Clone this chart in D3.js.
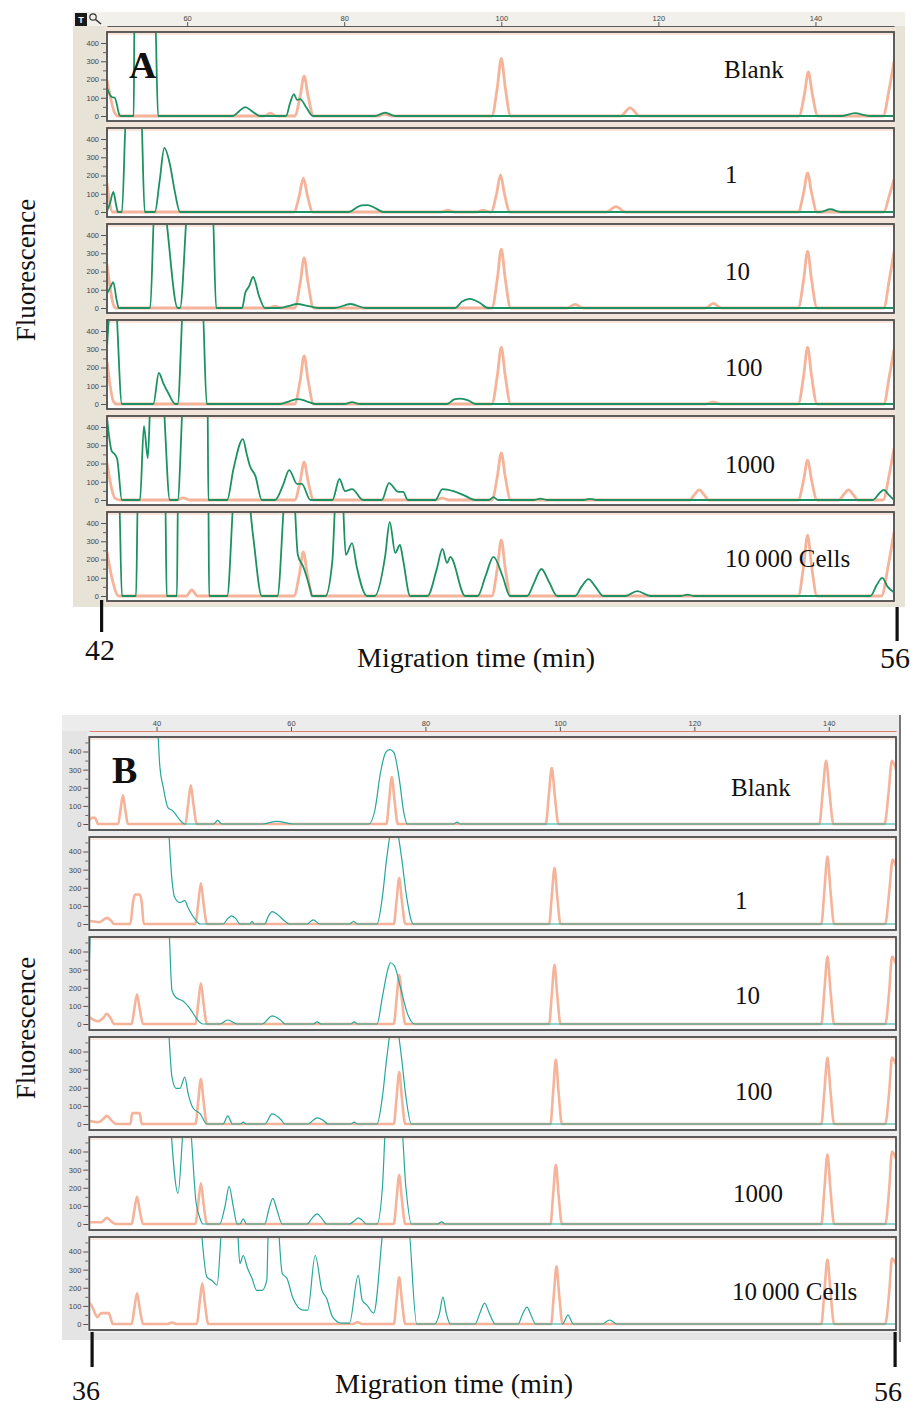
<!DOCTYPE html>
<html>
<head>
<meta charset="utf-8">
<script src="https://cdn.jsdelivr.net/npm/d3@7"></script>
<style>
  body { margin: 0; background: #ffffff; }
  svg { display: block; }
</style>
</head>
<body>
<script>
// ---------- data ----------
const laneLabels = ["Blank", "1", "10", "100", "1000", "10\u2009000 Cells"];
const yTicks = [0, 100, 200, 300, 400];
const yMinorTicks = [50, 150, 250, 350, 450];
const topTicksA = [60, 80, 100, 120, 140];
const topTicksB = [40, 60, 80, 100, 120, 140];
const domainA = [49.8, 150];
const domainB = [30, 150];
const timeLabelsA = ["42", "56"];
const timeLabelsB = ["36", "56"];

// Panel A traces: [scale position, fluorescence]
const orangeA = [
  [[49.8,197],[50.3,90],[50.8,15],[51.2,0],[69.8,0],[70.6,16],[71.4,0],[73.7,0],[74.4,110],[74.9,219],[75.4,110],[76.1,0],[84.4,0],[85.2,10],[86.0,0],[98.8,0],[99.5,158],[100,315],[100.5,158],[101.2,0],[115.2,0],[116.4,44],[117.6,0],[137.9,0],[138.6,120],[139.1,241],[139.6,120],[140.3,0],[148.6,0],[149.4,150],[150,300]],
  [[49.8,159],[50.1,60],[50.5,0],[73.6,0],[74.3,93],[74.8,186],[75.3,93],[76.0,0],[92.4,0],[93.2,10],[94.0,0],[96.9,0],[97.7,10],[98.5,0],[98.7,0],[99.4,100],[99.9,203],[100.4,100],[101.1,0],[113.4,0],[114.6,30],[115.8,0],[137.8,0],[138.5,107],[139.0,214],[139.5,107],[140.2,0],[148.7,0],[149.4,90],[150,180]],
  [[49.8,241],[50.2,110],[50.6,20],[50.9,0],[70.4,0],[71.2,10],[72.0,0],[73.7,0],[74.4,137],[74.9,274],[75.4,137],[76.1,0],[98.8,0],[99.5,161],[100,323],[100.5,161],[101.2,0],[108.4,0],[109.4,20],[110.4,0],[126.0,0],[127.0,25],[128.0,0],[137.8,0],[138.5,156],[139.0,312],[139.5,156],[140.2,0],[148.7,0],[149.4,155],[150,310]],
  [[49.8,235],[50.2,100],[50.6,15],[51.0,0],[73.7,0],[74.4,131],[74.9,263],[75.4,131],[76.1,0],[98.8,0],[99.5,156],[100,312],[100.5,156],[101.2,0],[126.0,0],[127.0,10],[128.0,0],[137.8,0],[138.5,156],[139.0,312],[139.5,156],[140.2,0],[148.7,0],[149.4,150],[150,300]],
  [[49.8,203],[50.3,80],[50.8,10],[51.5,0],[58.6,0],[59.5,12],[60.4,0],[73.7,0],[74.4,104],[74.9,208],[75.4,104],[76.1,0],[91.7,0],[92.5,10],[93.3,0],[98.8,0],[99.5,129],[100,258],[100.5,129],[101.2,0],[124.0,0],[124.6,30],[125.2,55],[125.8,30],[126.4,0],[137.8,0],[138.5,110],[139.0,219],[139.5,110],[140.2,0],[143.0,0],[143.6,30],[144.2,55],[144.8,30],[145.4,0],[148.6,0],[149.4,140],[150,285]],
  [[49.8,241],[50.4,104],[51.3,0],[59.9,0],[60.6,33],[61.3,0],[73.6,0],[74.3,120],[74.8,241],[75.3,120],[76.0,0],[98.8,0],[99.5,153],[100,307],[100.5,153],[101.2,0],[137.8,0],[138.5,167],[139.0,334],[139.5,167],[140.2,0],[148.4,0],[149.3,175],[150,350]]
];

const greenA = [
  [[49.8,153],[50.4,104],[50.8,99],[51.4,5],[51.6,0],[53.2,0],[53.3,600],[55.9,600],[56.3,0],[65.8,0],[66.6,25],[67.4,49],[68.3,25],[69.3,0],[72.6,0],[73.1,70],[73.6,120],[74.0,88],[74.4,93],[75.2,45],[76.0,0],[83.9,0],[85.2,18],[86.5,0],[143.3,0],[145.0,16],[146.9,0],[150,0]],
  [[49.8,5],[50.2,50],[50.6,110],[51.0,30],[51.2,0],[51.7,0],[52.3,600],[54.1,600],[54.6,0],[55.9,0],[56.5,170],[57.1,351],[57.8,263],[58.4,120],[59.1,0],[80.6,0],[81.6,25],[82.2,36],[83.0,38],[84.0,20],[85.0,0],[140.6,0],[141.9,15],[143.2,0],[150,0]],
  [[49.8,80],[50.2,110],[50.6,142],[51.0,50],[51.3,0],[55.3,0],[55.9,600],[56.8,600],[58.8,0],[59.1,0],[60.2,600],[63.2,600],[63.7,0],[67.0,0],[67.4,82],[67.9,120],[68.4,170],[69.2,60],[69.9,0],[71.8,0],[73.0,12],[74.0,22],[75.3,12],[76.7,0],[78.8,0],[80.8,22],[82.7,0],[94.1,0],[95.0,35],[96.0,50],[97.2,30],[98.3,0],[150,0]],
  [[49.8,307],[50.4,600],[50.8,600],[51.7,0],[55.7,0],[56.4,170],[57.0,110],[57.6,60],[58.5,0],[58.8,0],[59.6,600],[61.9,600],[62.5,0],[71.8,0],[73.0,15],[74.1,27],[75.2,15],[76.3,0],[80.0,0],[81.0,10],[82.0,0],[93.1,0],[94.0,25],[94.8,30],[95.8,20],[96.7,0],[150,0]],
  [[49.8,450],[50.4,268],[50.8,250],[51.1,224],[51.7,0],[54.0,0],[54.5,405],[55.0,230],[55.4,600],[56.8,600],[57.8,0],[58.8,0],[59.6,600],[62.6,600],[62.7,0],[65.1,0],[65.9,170],[67.1,334],[67.6,250],[68.0,186],[68.7,131],[69.5,0],[71.2,0],[72.2,80],[73.0,164],[74.0,88],[74.6,88],[75.7,0],[78.5,0],[79.4,115],[80.1,49],[81.0,60],[82.4,0],[84.8,0],[85.7,93],[86.9,44],[87.5,44],[88.1,0],[91.6,0],[92.5,60],[93.9,49],[95.2,27],[96.7,0],[98.4,0],[99.0,16],[99.6,0],[104.2,0],[105.0,8],[105.8,0],[110.5,0],[111.3,6],[112.1,0],[147.3,0],[148.2,40],[148.7,55],[149.4,25],[150,0]],
  [[49.8,600],[51.3,600],[51.7,0],[53.5,0],[53.75,600],[57.2,600],[57.4,0],[58.7,0],[58.85,600],[62.7,600],[62.8,0],[65.1,0],[66.1,600],[67.6,600],[68.4,330],[69.5,0],[71.5,0],[72.6,600],[73.5,600],[74.1,225],[74.8,159],[75.7,33],[75.9,0],[77.6,0],[78.5,197],[79.0,600],[79.7,600],[80.2,225],[81.0,290],[81.6,159],[82.9,0],[83.9,0],[85.2,214],[85.8,405],[86.5,236],[87.1,280],[87.5,197],[88.4,0],[90.6,0],[91.8,150],[92.5,258],[93.1,181],[93.5,214],[95.4,0],[97.0,0],[98.0,110],[99.0,214],[100.2,104],[101.1,0],[103.3,0],[104.2,75],[105.1,148],[106.1,75],[107.1,0],[109.4,0],[110.2,50],[111.1,93],[112.0,50],[113.0,0],[115.8,0],[117.3,27],[119.0,0],[122.9,0],[123.7,8],[124.5,0],[147.0,0],[147.8,60],[148.5,99],[149.2,50],[150,20]]
];

// Panel B traces
const orangeB = [
  [[30,20],[30.4,34],[30.85,34],[31.3,0],[34.3,0],[34.65,80],[35.0,158],[35.35,80],[35.75,0],[44.3,0],[44.7,107],[45.1,214],[45.5,107],[46.0,0],[74.2,0],[74.6,130],[75.0,259],[75.4,130],[75.9,0],[97.9,0],[98.35,155],[98.8,310],[99.25,155],[99.8,0],[138.6,0],[139.1,175],[139.6,349],[140.1,175],[140.7,0],[148.3,0],[148.9,175],[149.4,349],[150,300]],
  [[30,17],[31.5,10],[32.0,20],[32.6,34],[33.2,20],[33.7,0],[36.1,0],[36.5,120],[36.8,163],[37.5,163],[37.8,120],[38.1,0],[45.8,0],[46.2,112],[46.6,225],[47.0,112],[47.5,0],[75.3,0],[75.7,126],[76.1,253],[76.5,126],[77.0,0],[98.4,0],[98.8,155],[99.2,310],[99.6,155],[100.1,0],[138.9,0],[139.35,186],[139.8,372],[140.25,186],[140.8,0],[148.4,0],[149.0,180],[149.5,355],[150,320]],
  [[30,38],[31.3,15],[32.0,30],[32.6,56],[33.2,30],[33.7,0],[36.3,0],[36.7,82],[37.1,163],[37.5,82],[38.0,0],[45.8,0],[46.2,112],[46.6,225],[47.0,112],[47.5,0],[75.3,0],[75.7,135],[76.1,270],[76.5,135],[77.0,0],[98.4,0],[98.8,163],[99.2,326],[99.6,163],[100.1,0],[138.9,0],[139.35,186],[139.8,372],[140.25,186],[140.8,0],[148.4,0],[149.0,186],[149.4,372],[150,330]],
  [[30,17],[31.3,10],[32.0,25],[32.6,45],[33.3,20],[34.0,0],[36.1,0],[36.4,60],[37.5,60],[37.8,0],[45.8,0],[46.2,124],[46.6,248],[47.0,124],[47.5,0],[75.3,0],[75.7,143],[76.1,287],[76.5,143],[77.0,0],[98.6,0],[99.0,177],[99.4,355],[99.8,177],[100.3,0],[138.9,0],[139.35,183],[139.8,366],[140.25,183],[140.8,0],[148.4,0],[149.0,183],[149.4,366],[150,330]],
  [[30,10],[31.8,10],[32.6,34],[33.4,10],[34.0,0],[36.3,0],[36.7,75],[37.1,150],[37.5,75],[38.0,0],[45.8,0],[46.2,112],[46.6,225],[47.0,112],[47.5,0],[75.3,0],[75.7,135],[76.1,270],[76.5,135],[77.0,0],[98.6,0],[99.0,163],[99.4,326],[99.8,163],[100.3,0],[138.9,0],[139.35,191],[139.8,383],[140.25,191],[140.8,0],[148.4,0],[149.0,200],[149.4,400],[150,360]],
  [[30,120],[30.5,90],[31.2,38],[31.6,55],[32.0,60],[32.9,60],[33.2,30],[33.5,0],[36.3,0],[36.7,85],[37.1,170],[37.5,85],[38.0,0],[41.6,0],[42.3,8],[43.0,0],[46.0,0],[46.4,112],[46.8,225],[47.2,112],[47.7,0],[69.2,0],[69.9,10],[70.6,0],[75.3,0],[75.7,129],[76.1,258],[76.5,129],[77.0,0],[98.7,0],[99.1,159],[99.5,318],[99.9,159],[100.4,0],[138.9,0],[139.35,178],[139.8,356],[140.25,178],[140.8,0],[148.4,0],[149.0,180],[149.4,362],[150,330]]
];

const greenB = [
  [[40.1,600],[40.5,315],[41.0,203],[41.7,90],[42.4,73],[43.0,45],[44.2,0],[48.5,0],[49.1,20],[49.7,0],[55.8,0],[57.9,15],[60.3,0],[71.6,0],[72.5,80],[73.3,280],[74.1,395],[74.7,410],[75.3,395],[76.1,250],[76.8,60],[77.3,0],[84.2,0],[84.7,10],[85.2,0],[150,0]],
  [[41.7,600],[42.3,242],[42.7,146],[43.5,118],[44.2,129],[44.7,90],[45.7,28],[46.5,0],[49.9,0],[50.6,30],[51.2,45],[51.8,30],[52.4,0],[53.9,0],[54.2,15],[54.5,0],[56.1,0],[56.6,40],[57.2,68],[57.9,55],[59.1,15],[59.8,0],[62.4,0],[63.3,23],[64.3,0],[68.7,0],[69.3,15],[69.9,0],[72.8,0],[73.6,150],[74.3,380],[75.0,520],[75.7,520],[76.4,380],[77.2,150],[78.2,0],[150,0]],
  [[30,330],[30.4,600],[41.7,600],[42.3,186],[42.9,146],[43.8,129],[44.2,118],[45.0,84],[46.0,28],[46.9,0],[49.4,0],[50.6,22],[52.0,0],[55.7,0],[57.2,45],[58.5,20],[59.1,0],[63.3,0],[63.9,12],[64.5,0],[68.9,0],[69.4,12],[69.9,0],[72.8,0],[73.6,150],[74.4,300],[74.8,338],[75.4,320],[76.3,200],[77.3,60],[78.4,0],[150,0]],
  [[41.7,600],[42.3,259],[42.9,197],[43.5,197],[44.2,259],[44.7,169],[45.4,90],[46.5,56],[47.5,0],[49.9,0],[50.6,45],[51.3,0],[52.5,0],[52.9,10],[53.3,0],[56.1,0],[57.2,56],[58.5,25],[59.1,0],[62.5,0],[63.9,34],[64.8,20],[65.5,0],[68.9,0],[69.4,10],[69.9,0],[72.8,0],[73.6,150],[74.3,380],[75.0,540],[75.7,540],[76.4,380],[77.1,150],[77.9,0],[150,0]],
  [[42.0,600],[43.2,169],[44.2,600],[44.8,600],[45.9,113],[46.5,28],[46.9,0],[49.4,0],[50.2,100],[50.8,208],[51.4,100],[52.0,0],[52.4,0],[52.9,28],[53.4,0],[56.1,0],[56.7,80],[57.3,141],[57.9,80],[58.7,0],[62.4,0],[63.1,30],[63.9,56],[64.6,30],[65.3,0],[68.7,0],[69.5,20],[70.0,34],[70.6,20],[71.2,0],[72.8,0],[73.6,200],[74.2,600],[76.3,600],[77.1,200],[77.9,0],[81.8,0],[82.4,12],[83.0,0],[150,0]],
  [[46.5,600],[47.5,258],[48.2,241],[49.0,214],[49.9,600],[51.9,600],[52.4,334],[52.9,378],[53.5,312],[54.2,252],[54.9,186],[55.7,186],[56.4,241],[56.7,600],[57.9,600],[58.7,279],[59.4,252],[60.3,142],[61.8,77],[62.5,77],[63.6,378],[64.6,186],[65.3,142],[66.2,38],[67.5,5],[68.7,5],[70.0,268],[70.6,131],[71.3,104],[72.3,60],[74.1,600],[77.3,600],[78.7,0],[81.4,0],[82.1,60],[82.6,148],[83.1,60],[83.7,0],[87.4,0],[88.1,60],[88.8,115],[89.5,60],[90.4,0],[93.8,0],[94.4,50],[95.1,93],[95.7,50],[96.4,0],[100.4,0],[101.2,49],[102.0,0],[106.3,0],[107.4,22],[108.5,0],[150,0]]
];

// ---------- drawing ----------
const W = 911, H = 1409;
const svg = d3.select("body").append("svg").attr("width", W).attr("height", H);
const serif = "'Liberation Serif', 'Times New Roman', serif";
const sans = "'Liberation Sans', Arial, sans-serif";

function drawFigure(o) {
  const g = svg.append("g");
  // window background
  g.append("rect").attr("x", o.frame[0]).attr("y", o.frame[1]).attr("width", o.frame[2]).attr("height", o.frame[3]).attr("fill", o.frameColor);
  g.append("rect").attr("x", o.frame[0]).attr("y", o.frame[1]).attr("width", o.frame[2]).attr("height", o.axisY - o.frame[1]).attr("fill", o.stripColor);
  g.append("rect").attr("x", o.left - 2).attr("y", o.axisY + 1).attr("width", o.right - o.left + 4)
    .attr("height", o.tops[o.tops.length - 1] + o.height - o.axisY + 2).attr("fill", o.gapColor);

  const x = d3.scaleLinear().domain(o.domain).range([o.left, o.right]);

  // top scale
  const ax = g.append("g").attr("transform", `translate(0,${o.axisY})`)
    .call(d3.axisTop(x).tickValues(o.topTicks).tickSize(4).tickPadding(1).tickSizeOuter(0));
  ax.select(".domain").attr("stroke", o.axisColor).attr("stroke-width", 1);
  ax.selectAll(".tick line").attr("stroke", "#555");
  ax.selectAll("text").attr("font-size", 7.5).attr("font-family", sans).attr("fill", "#444");

  o.tops.forEach((top, i) => {
    const y = d3.scaleLinear().domain([0, 400]).range([top + o.zeroOff, top + o.fourOff]);
    const pg = g.append("g");
    pg.append("rect").attr("x", o.left).attr("y", top).attr("width", o.right - o.left).attr("height", o.height).attr("fill", "#ffffff");
    pg.append("line").attr("x1", o.left + 1).attr("x2", o.right - 1).attr("y1", top + 2).attr("y2", top + 2)
      .attr("stroke", o.peachLine).attr("stroke-width", 1.5);

    const clipId = `clip-${o.id}-${i}`;
    svg.append("clipPath").attr("id", clipId).append("rect")
      .attr("x", o.left + 1).attr("y", top + 1).attr("width", o.right - o.left - 2).attr("height", o.height - 2);

    const line = d3.line().x(d => x(d[0])).y(d => y(d[1])).curve(d3.curveMonotoneX);
    const tg = pg.append("g").attr("clip-path", `url(#${clipId})`);
    tg.append("path").datum(o.orange[i]).attr("d", line).attr("fill", "none")
      .attr("stroke", "#f3a284").attr("stroke-opacity", 0.82).attr("stroke-width", o.orangeWidth)
      .attr("stroke-linejoin", "round");
    tg.append("path").datum(o.green[i]).attr("d", line).attr("fill", "none")
      .attr("stroke", o.greenColor).attr("stroke-width", o.greenWidth).attr("stroke-linejoin", "round");

    pg.append("rect").attr("x", o.left).attr("y", top).attr("width", o.right - o.left).attr("height", o.height)
      .attr("fill", "none").attr("stroke", "#4c4c4c").attr("stroke-width", 1.8);

    // fluorescence scale
    const ya = pg.append("g").attr("transform", `translate(${o.left - 1},0)`)
      .call(d3.axisLeft(y).tickValues(yTicks).tickSize(5).tickPadding(2));
    ya.select(".domain").remove();
    ya.selectAll(".tick line").attr("stroke", "#555");
    ya.selectAll("text").attr("font-size", 7.5).attr("font-family", sans).attr("fill", "#444");
    const ym = pg.append("g").attr("transform", `translate(${o.left - 1},0)`)
      .call(d3.axisLeft(y).tickValues(yMinorTicks.filter(v => y(v) > top + 2)).tickSize(3).tickFormat(""));
    ym.select(".domain").remove();
    ym.selectAll(".tick line").attr("stroke", "#666");

    // lane label
    pg.append("text").attr("x", o.labelX[i]).attr("y", top + o.labelDy[i])
      .attr("font-family", serif).attr("font-size", 25).attr("fill", "#111").text(laneLabels[i]);
  });

  // panel letter
  g.append("text").attr("x", o.letterPos[0]).attr("y", o.letterPos[1]).attr("font-family", serif)
    .attr("font-weight", "bold").attr("font-size", 38).attr("fill", "#111").text(o.letter);

  // y title
  g.append("text").attr("transform", `translate(${o.yTitle[0]},${o.yTitle[1]}) rotate(-90)`)
    .attr("text-anchor", "middle").attr("font-family", serif).attr("font-size", 27).attr("fill", "#111")
    .text("Fluorescence");

  // x title and time marks
  g.append("text").attr("x", o.xTitle[0]).attr("y", o.xTitle[1]).attr("font-family", serif)
    .attr("font-size", 28).attr("fill", "#111").text("Migration time (min)");
  o.timeMarks.forEach((m, k) => {
    g.append("rect").attr("x", m.x - 1.5).attr("y", m.y0).attr("width", 3.2).attr("height", m.y1 - m.y0).attr("fill", "#111");
    g.append("text").attr("x", m.tx).attr("y", m.ty).attr("text-anchor", "middle").attr("font-family", serif)
      .attr("font-size", m.fs).attr("fill", "#111").text(o.timeLabels[k]);
  });
  return g;
}

const gA = drawFigure({
  id: "A", letter: "A", domain: domainA, left: 107, right: 894, axisY: 26,
  tops: [32, 128, 224, 320, 416, 512], height: 89, zeroOff: 84, fourOff: 11,
  frame: [73, 12, 832, 595], frameColor: "#e7e3d7", stripColor: "#f1f0eb", gapColor: "#f2e4d7",
  axisColor: "#5a5a5a", peachLine: "#f8ddd0", topTicks: topTicksA,
  orange: orangeA, green: greenA, greenColor: "#1c9262", greenWidth: 1.8, orangeWidth: 2.8,
  labelX: [724, 725, 725, 725, 725, 725], labelDy: [46, 55, 56, 56, 57, 55],
  letterPos: [129, 78], yTitle: [35, 270], xTitle: [357, 667],
  timeLabels: timeLabelsA,
  timeMarks: [{ x: 101.5, y0: 600, y1: 632, tx: 100, ty: 660, fs: 30 }, { x: 897, y0: 607, y1: 641, tx: 895, ty: 668, fs: 30 }]
});

// small toolbar icons in the corner of window A
gA.append("rect").attr("x", 75).attr("y", 13).attr("width", 12).attr("height", 13).attr("fill", "#1a1a1a");
gA.append("text").attr("x", 81).attr("y", 23).attr("text-anchor", "middle").attr("font-family", sans)
  .attr("font-size", 9).attr("font-weight", "bold").attr("fill", "#fff").text("T");
gA.append("circle").attr("cx", 93).attr("cy", 17).attr("r", 3.2).attr("fill", "none").attr("stroke", "#333").attr("stroke-width", 1.2);
gA.append("line").attr("x1", 95.5).attr("y1", 19.5).attr("x2", 101).attr("y2", 24).attr("stroke", "#333").attr("stroke-width", 1.6);

const gB = drawFigure({
  id: "B", letter: "B", domain: domainB, left: 89.3, right: 896, axisY: 731,
  tops: [737, 837, 937, 1037, 1137, 1237], height: 93, zeroOff: 87, fourOff: 14.5,
  frame: [62, 715, 838, 625], frameColor: "#e4e4e4", stripColor: "#ececec", gapColor: "#ececec",
  axisColor: "#e0806a", peachLine: "#fae3d8", topTicks: topTicksB,
  orange: orangeB, green: greenB, greenColor: "#26a79b", greenWidth: 1.2, orangeWidth: 2.6,
  labelX: [731, 735, 735, 735, 733, 732], labelDy: [59, 72, 67, 63, 65, 63],
  letterPos: [112, 783], yTitle: [35, 1028], xTitle: [335, 1393],
  timeLabels: timeLabelsB,
  timeMarks: [{ x: 92, y0: 1332, y1: 1367, tx: 86, ty: 1400, fs: 28 }, { x: 895, y0: 1332, y1: 1367, tx: 888, ty: 1401, fs: 28 }]
});
gB.append("line").attr("x1", 900).attr("x2", 900).attr("y1", 715).attr("y2", 1342)
  .attr("stroke", "#6a6a6a").attr("stroke-width", 1.8);
</script>
</body>
</html>
